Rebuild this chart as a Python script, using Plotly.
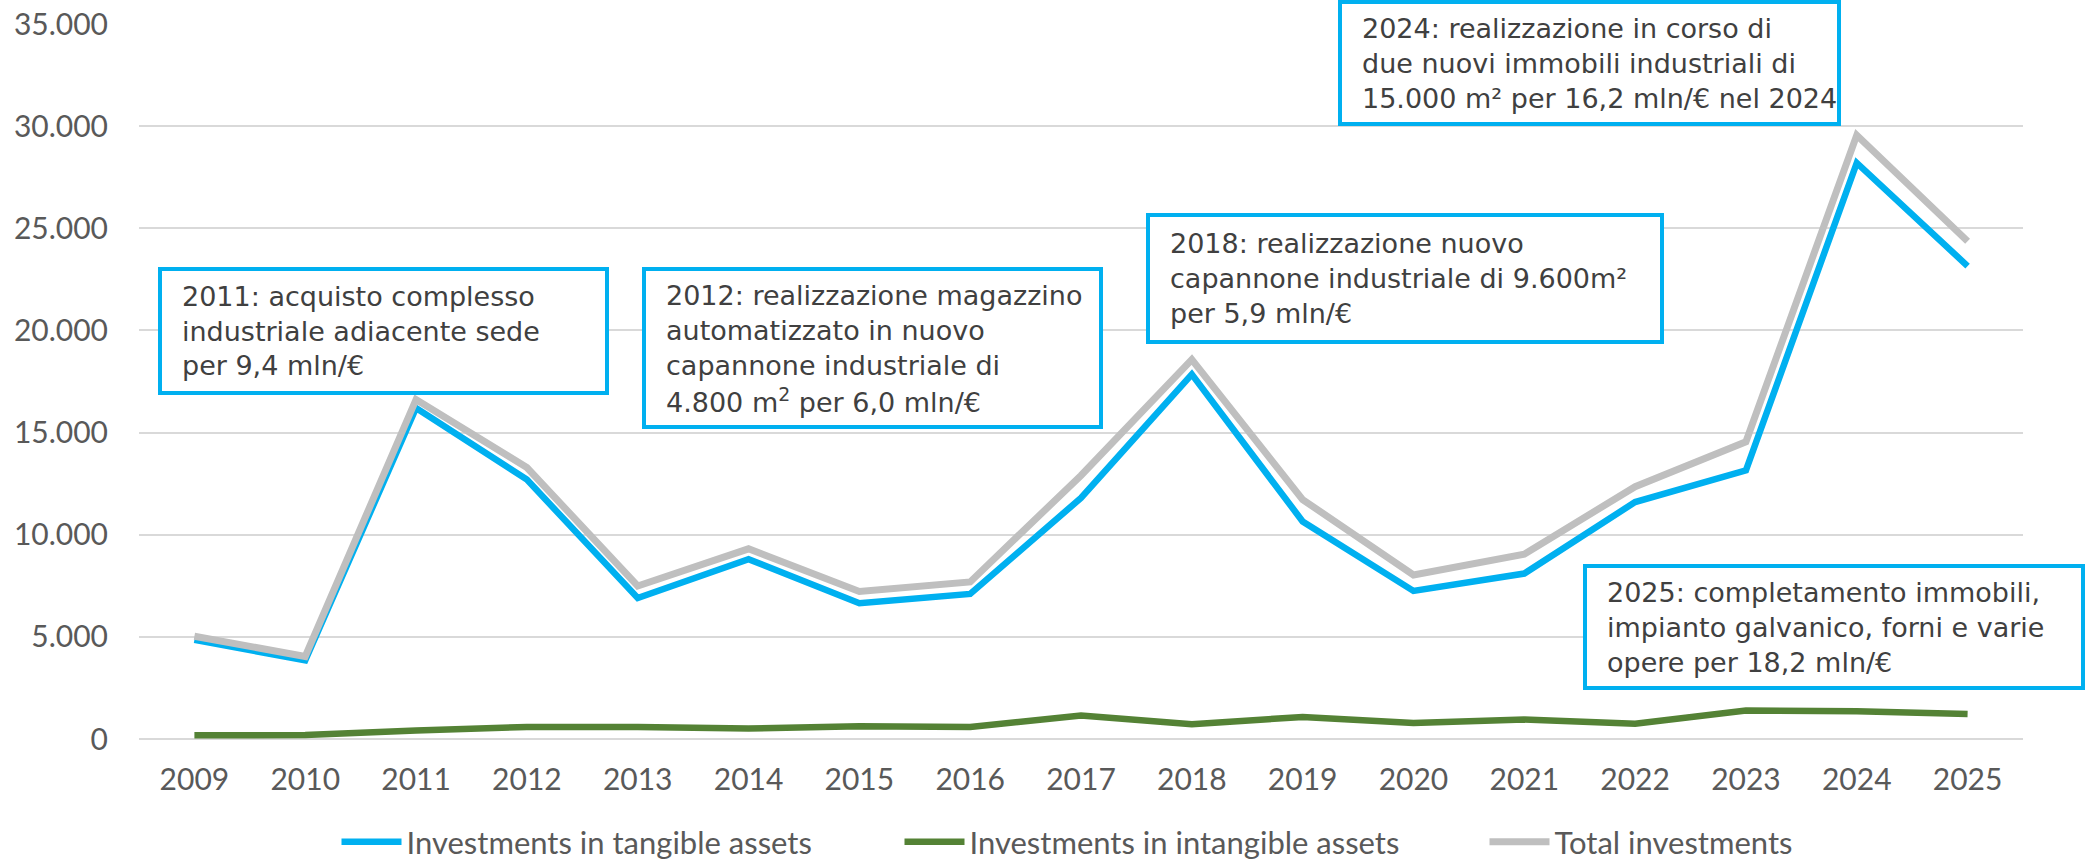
import plotly.graph_objects as go

# ---------------- data ----------------
years = [str(y) for y in range(2009, 2026)]
tangible = [4850, 3850, 16200, 12700, 6900, 8800, 6650, 7100, 11800, 17850,
            10650, 7250, 8100, 11600, 13150, 28200, 23150]
intangible = [180, 190, 420, 590, 590, 510, 620, 590, 1150, 720,
              1080, 780, 950, 750, 1400, 1360, 1220]
total = [5030, 4040, 16620, 13290, 7490, 9310, 7220, 7690, 12900, 18570,
         11720, 8030, 9050, 12350, 14550, 29560, 24370]
series_names = ["Investments in tangible assets",
                "Investments in intangible assets",
                "Total investments"]
y_ticks = [0, 5000, 10000, 15000, 20000, 25000, 30000, 35000]

notes = [
    ["2011: acquisto complesso", "industriale adiacente sede", "per 9,4 mln/€"],
    ["2012: realizzazione magazzino", "automatizzato in nuovo",
     "capannone industriale di", "4.800 m<sup>2</sup> per 6,0 mln/€"],
    ["2018: realizzazione nuovo", "capannone industriale di 9.600m²",
     "per 5,9 mln/€"],
    ["2024: realizzazione in corso di", "due nuovi immobili industriali di",
     "15.000 m² per 16,2 mln/€ nel 2024"],
    ["2025: completamento immobili,", "impianto galvanico, forni e varie",
     "opere per 18,2 mln/€"],
]

# ---------------- layout geometry (pixels) ----------------
W, H = 2089, 861
PL, PR, PT, PB = 139, 2023, 24, 739
box_px = [  # x0, x1, y0, y1 (pixel, top-down)
    (160, 607, 269, 393),
    (644, 1101, 269, 427),
    (1148, 1662, 215, 342),
    (1340, 1839, 2, 124),
    (1585, 2083, 566, 688),
]
LINE_STEP = 35
TEXT_INSET = 20


def fx(px):
    return (px - PL) / (PR - PL)


def fy(py):
    return (PB - py) / (PB - PT)


colors = ["#00B0F0", "#548235", "#BFBFBF"]
widths = [6.5, 6.5, 7]
values = [tangible, intangible, total]
legend_w = [488, 510, 240]

fig = go.Figure()
for name, vals, c, w, lw in zip(series_names, values, colors, widths, legend_w):
    fig.add_trace(go.Scatter(
        x=years, y=vals, mode="lines", name=name,
        line=dict(color=c, width=w), legendwidth=lw,
        hoverinfo="skip"))

shapes = []
annotations = []
for (x0, x1, y0, y1), lines in zip(box_px, notes):
    shapes.append(dict(type="rect", xref="paper", yref="paper",
                       x0=fx(x0), x1=fx(x1), y0=fy(y1), y1=fy(y0),
                       line=dict(color="#00B0F0", width=4),
                       fillcolor="white", layer="above"))
    cy = (y0 + y1) / 2
    n = len(lines)
    for i, t in enumerate(lines):
        ly = cy + (i - (n - 1) / 2) * LINE_STEP
        annotations.append(dict(
            text=t, xref="paper", yref="paper", x=fx(x0 + TEXT_INSET), y=fy(ly),
            xanchor="left", yanchor="middle", showarrow=False, align="left",
            font=dict(family="DejaVu Sans", size=27, color="#404040")))

fig.update_layout(
    width=W, height=H,
    margin=dict(l=PL, r=W - PR, t=PT, b=H - PB, pad=0, autoexpand=False),
    paper_bgcolor="white", plot_bgcolor="white",
    separators=",.",
    font=dict(family="Lato", size=30, color="#595959"),
    showlegend=True,
    legend=dict(orientation="h", xref="container", x=1068 / W, xanchor="center",
                yref="container", y=1 - 842 / H, yanchor="middle", itemwidth=60,
                font=dict(family="Lato", size=31, color="#595959"),
                bgcolor="rgba(0,0,0,0)", traceorder="normal"),
    xaxis=dict(type="category", range=[-0.5, len(years) - 0.5],
               showgrid=False, showline=False, zeroline=False,
               ticks="", ticklabelstandoff=20,
               tickfont=dict(family="Lato", size=30, color="#595959")),
    yaxis=dict(range=[0, 35000], tickvals=y_ticks, tickformat=",d",
               showgrid=True, gridcolor="#D9D9D9", gridwidth=1.5,
               zeroline=True, zerolinecolor="#D9D9D9", zerolinewidth=1.5,
               showline=False, ticks="", ticklabelstandoff=30,
               tickfont=dict(family="Lato", size=30, color="#595959")),
    shapes=shapes, annotations=annotations,
)

fig.write_html(
    "out.html",
    config={"displayModeBar": False},
    post_script="document.body.style.margin='0';document.body.style.overflow='hidden';")
